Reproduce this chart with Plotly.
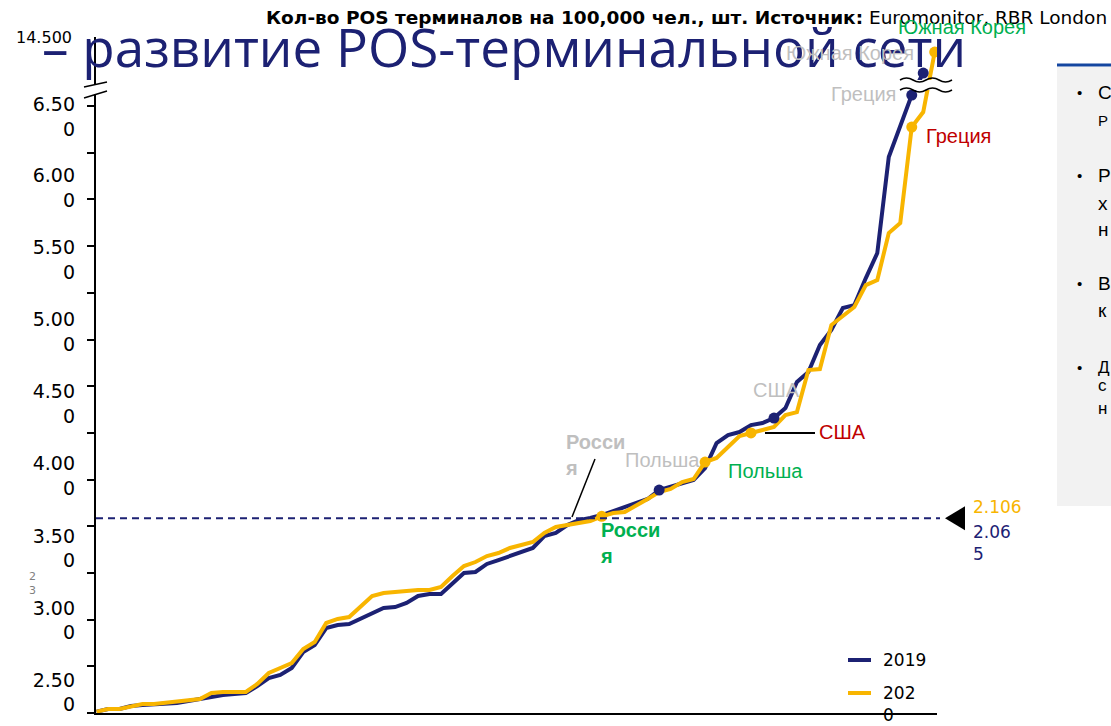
import plotly.graph_objects as go

# ---------------- data (axis is broken above ~6.6k) ----------------
pos_2019 = [15, 43, 43, 75, 86, 96, 96, 107, 128, 150, 171, 193, 203, 214, 289, 375, 407, 482,
             653, 728, 910, 942, 953, 1007, 1071, 1124, 1135, 1178, 1253, 1274, 1274, 1392, 1499,
             1510, 1596, 1638, 1681, 1724, 1767, 1895, 1928, 2013, 2065, 2088, 2120, 2163, 2206,
             2238, 2292, 2388, 2420, 2463, 2495, 2624, 2891, 2977, 3009, 3084, 3106, 3159, 3266,
             3545, 3652, 3941, 4102, 4337, 4369, 4658, 4926, 5954, 6286, 6618, 6854]
pos_2020 = [15, 43, 43, 75, 96, 96, 107, 118, 139, 150, 214, 225, 225, 225, 311, 428, 482, 535,
             685, 760, 964, 1007, 1028, 1146, 1253, 1285, 1296, 1306, 1317, 1317, 1349, 1467, 1574,
             1617, 1681, 1713, 1767, 1799, 1831, 1928, 1992, 2013, 2035, 2056, 2106, 2142, 2153,
             2217, 2292, 2367, 2399, 2474, 2506, 2688, 2731, 2849, 2966, 2999, 3031, 3063, 3191,
             3223, 3673, 3684, 4155, 4252, 4348, 4583, 4637, 5140, 5247, 6275, 6436, 7079]
rank_2019 = list(range(len(pos_2019)))
rank_2020 = list(range(len(pos_2020)))

series_names = ["2019", "202<br>0"]

# highlighted countries: rank index in each year's sorted list
hl_countries = ["Польша", "США", "Греция", "Южная Корея"]
hl_idx_2019 = [49, 59, 71, 72]
hl_countries_2020 = ["Россия", "Польша", "США", "Греция", "Южная Корея"]
hl_idx_2020 = [44, 53, 57, 71, 73]

russia_values = [2065, 2106]          # 2019, 2020
russia_labels = ["2.06<br>5", "2.106"]

y_tick_vals = list(range(0, 7000, 500))
y_label_text = ["2.50<br>0", "3.00<br>0", "3.50<br>0", "4.00<br>0", "4.50<br>0",
                "5.00<br>0", "5.50<br>0", "6.00<br>0", "6.50<br>0"]
y_label_pos = [220, 991, 1762, 2538, 3309, 4085, 4851, 5628, 6383]
y_top_label = "14.500"
y_max = 7240

NAVY = "#1c2173"
GOLD = "#f8b500"
GREEN = "#00b050"
RED = "#c00000"
GRAY = "#bfbfbf"

W, H = 1111, 726
L, R, T, B = 96, 174, 37, 13
PW, PH = W - L - R, H - T - B


def fx(px):
    return (px - L) / PW


def fy(py):
    return (H - B - py) / PH


fig = go.Figure()
fig.add_trace(go.Scatter(x=rank_2019, y=pos_2019, mode="lines", name="2019",
                         line=dict(color=NAVY, width=4), showlegend=False))
fig.add_trace(go.Scatter(x=rank_2020, y=pos_2020, mode="lines", name="2020",
                         line=dict(color=GOLD, width=4), showlegend=False))
fig.add_trace(go.Scatter(x=hl_idx_2019, y=[pos_2019[i] for i in hl_idx_2019], mode="markers",
                         marker=dict(color=NAVY, size=11), showlegend=False, text=hl_countries,
                         hoverinfo="text+y"))
fig.add_trace(go.Scatter(x=hl_idx_2020, y=[pos_2020[i] for i in hl_idx_2020], mode="markers",
                         marker=dict(color=GOLD, size=11), showlegend=False, text=hl_countries_2020,
                         hoverinfo="text+y"))
# invisible trace to carry the label axis
fig.add_trace(go.Scatter(x=[0], y=[0], yaxis="y2", mode="markers", marker=dict(opacity=0),
                         showlegend=False, hoverinfo="skip"))

russia_level = sum(russia_values) / len(russia_values)

shapes = []
# right panel
shapes.append(dict(type="rect", xref="paper", yref="paper", x0=fx(1057), x1=fx(1120),
                   y0=fy(506), y1=fy(67), fillcolor="#f2f2f2", line=dict(width=0), layer="below"))
shapes.append(dict(type="line", xref="paper", yref="paper", x0=fx(1057), x1=fx(1120),
                   y0=fy(65), y1=fy(65), line=dict(color="#1446a0", width=3)))
# Russia dashed level
shapes.append(dict(type="line", xref="paper", yref="y", x0=0, x1=fx(940), y0=russia_level,
                   y1=russia_level, line=dict(color=NAVY, width=2, dash="7px,5px")))
# triangle pointer
shapes.append(dict(type="path", xref="paper", yref="y", xsizemode="pixel", ysizemode="pixel",
                   xanchor=fx(937), yanchor=russia_level, path="M8,0 L28,12 L28,-12 Z",
                   fillcolor="black", line=dict(width=0)))
# y-axis break
shapes.append(dict(type="path", xref="paper", yref="paper", xsizemode="pixel", ysizemode="pixel",
                   xanchor=0, yanchor=fy(90), path="M-4,5 L4,5 L4,-4 L-4,-4 Z",
                   fillcolor="white", line=dict(width=0)))
shapes.append(dict(type="path", xref="paper", yref="paper", xsizemode="pixel", ysizemode="pixel",
                   xanchor=0, yanchor=fy(90), path="M-12,3 L11,8", line=dict(color="black", width=1.5)))
shapes.append(dict(type="path", xref="paper", yref="paper", xsizemode="pixel", ysizemode="pixel",
                   xanchor=0, yanchor=fy(90), path="M-12,-8 L11,-1", line=dict(color="black", width=1.5)))
# series break (wavy)
shapes.append(dict(type="path", xref="paper", yref="paper", xsizemode="pixel", ysizemode="pixel",
                   xanchor=fx(900), yanchor=fy(85), path="M0,5 L52,5 L52,-5 L0,-5 Z",
                   fillcolor="white", line=dict(width=0)))
for off in (5, -5):
    shapes.append(dict(type="path", xref="paper", yref="paper", xsizemode="pixel",
                       ysizemode="pixel", xanchor=fx(900), yanchor=fy(85),
                       path=f"M0,{off} Q6.5,{off+4} 13,{off} T26,{off} T39,{off} T52,{off}",
                       line=dict(color="black", width=1.5)))
# leader lines
shapes.append(dict(type="line", xref="paper", yref="paper", x0=fx(595), y0=fy(459), x1=fx(572),
                   y1=fy(517), line=dict(color="black", width=1.5)))
shapes.append(dict(type="line", xref="paper", yref="paper", x0=fx(765), y0=fy(433), x1=fx(815),
                   y1=fy(433), line=dict(color="black", width=2)))
# legend samples
for yy, col in ((660, NAVY), (693, GOLD)):
    shapes.append(dict(type="line", xref="paper", yref="paper", x0=fx(848), x1=fx(871),
                       y0=fy(yy), y1=fy(yy), line=dict(color=col, width=4)))

ann = []


def text(px, py, s, color="black", size=20, family="Liberation Sans", xanchor="left",
         yanchor="middle", align="left"):
    ann.append(dict(xref="paper", yref="paper", x=fx(px), y=fy(py), text=s, showarrow=False,
                    xanchor=xanchor, yanchor=yanchor, align=align,
                    font=dict(color=color, size=size, family=family)))


text(40, 47, "– развитие POS-терминальной сети", NAVY, 53, "Open Sans")
text(1109, 18, "<b>Кол-во POS терминалов на 100,000 чел., шт. Источник:</b> Euromonitor, RBR London",
     "black", 18.5, "DejaVu Sans", xanchor="right")
text(74, 37, y_top_label, "black", 16, "DejaVu Sans", xanchor="right")
text(784, 53, "Южная Корея", GRAY)
text(896, 27, "Южная Корея", GREEN)
text(829, 94, "Греция", GRAY)
text(924, 136, "Греция", RED)
text(751, 390, "США", GRAY)
text(817, 432, "США", RED)
text(623, 460, "Польша", GRAY)
text(726, 471, "Польша", GREEN)
text(563, 455, "<b>Росси<br>я</b>", GRAY)
text(598, 543, "<b>Росси<br>я</b>", GREEN)
text(971, 507, russia_labels[1], GOLD, 17, "DejaVu Sans")
text(971, 543, russia_labels[0], NAVY, 17, "DejaVu Sans")
text(881, 660, series_names[0], "black", 17, "DejaVu Sans")
text(881, 681, series_names[1], "black", 17, "DejaVu Sans", yanchor="top")
text(27, 583, "2<br>3", "#7f7f7f", 11, "DejaVu Sans")
for yy in (92, 175, 283, 367):
    text(1075, yy, "•", "black", 15)
for yy, s, sz in [(92, "С", 19), (121, "Р", 15), (175, "Р", 19), (203, "х", 19), (230, "н", 19),
                  (283, "В", 19), (310, "к", 19), (367, "Д", 17), (385, "с", 17), (409, "н", 17)]:
    text(1096, yy, s, "black", sz)

fig.update_layout(
    width=W, height=H, margin=dict(l=L, r=R, t=T, b=B),
    plot_bgcolor="white", paper_bgcolor="white",
    xaxis=dict(range=[-0.05, 73.2], showline=True, linecolor="black", linewidth=2,
               showgrid=False, zeroline=False, ticks="", showticklabels=False),
    yaxis=dict(range=[0, y_max], showline=True, linecolor="black", linewidth=2,
               showgrid=False, zeroline=False, ticks="outside", ticklen=7, tickwidth=1.5,
               tickcolor="black", tickvals=y_tick_vals, showticklabels=False),
    yaxis2=dict(range=[0, y_max], overlaying="y", anchor="x", side="left", showline=False,
                showgrid=False, zeroline=False, ticks="", tickvals=y_label_pos,
                ticktext=y_label_text, ticklabelstandoff=20,
                tickfont=dict(family="DejaVu Sans", size=19, color="black")),
    shapes=shapes, annotations=ann, showlegend=False,
)

fig.write_html("out.html", config={"displayModeBar": False},
               post_script="document.body.style.margin='0';document.body.style.overflow='hidden';")
